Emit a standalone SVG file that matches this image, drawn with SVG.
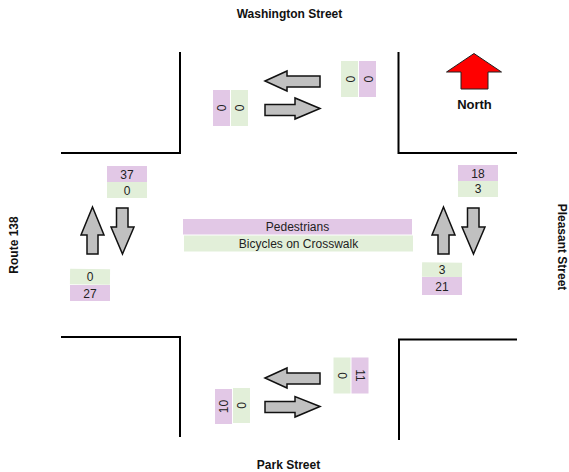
<svg xmlns="http://www.w3.org/2000/svg" width="569" height="472" viewBox="0 0 569 472">
<style>
.street{font-family:"Liberation Sans",Arial,sans-serif;font-weight:bold;font-size:12px;fill:#111;text-anchor:middle}
.num{font-family:"Liberation Sans",Arial,sans-serif;font-size:12px;fill:#222;text-anchor:middle}
.ped{fill:#e2c8e6}
.bik{fill:#e2efd9}
.curb{fill:none;stroke:#000;stroke-width:2}
.arr{fill:#c0c0c0;stroke:#111;stroke-width:1.5;stroke-linejoin:miter}
</style>
<rect width="569" height="472" fill="#fff"/>
<g id="curbs">
<polyline class="curb" points="180,52 180,153 61,153"/>
<polyline class="curb" points="398.5,52 398.5,153 517,153"/>
<polyline class="curb" points="61,337 180,337 180,437"/>
<polyline class="curb" points="517,339.5 399,339.5 399,440"/>
</g>
<g id="street-labels">
<text class="street" x="289.5" y="18">Washington Street</text>
<text class="street" x="288.5" y="469">Park Street</text>
<text class="street" transform="translate(18,245) rotate(-90)">Route 138</text>
<text class="street" transform="translate(557.5,247) rotate(90)">Pleasant Street</text>
</g>
<g id="north">
<polygon points="474,53.5 446.5,72 461,72 461,89 488,89 488,72 501.5,72" fill="#ff0000" stroke="#222" stroke-width="1"/>
<text x="474.5" y="109" style="font-family:'Liberation Sans',Arial,sans-serif;font-weight:bold;font-size:13px;fill:#111;text-anchor:middle">North</text>
</g>
<g id="legend">
<rect class="ped" x="183" y="219" width="229" height="15.5"/>
<text class="num" x="297.5" y="231">Pedestrians</text>
<rect class="bik" x="184" y="235.5" width="229" height="16"/>
<text class="num" x="298.5" y="248">Bicycles on Crosswalk</text>
</g>
<g id="connectors">
<polygon class="arr" points="265,81 287,71 287,76 320,76 320,87 287,87 287,91"/>
<polygon class="arr" points="320,108.5 295,98 295,104.5 265,104.5 265,115.5 295,115.5 295,119"/>
<polygon class="arr" points="265,378 287,368 287,373 320,373 320,384 287,384 287,388"/>
<polygon class="arr" points="320,406.5 295,396.5 295,401.5 265,401.5 265,412.5 295,412.5 295,417"/>
<polygon class="arr" points="92.5,207 104,235 98,235 98,254 87,254 87,235 81,235"/>
<polygon class="arr" points="122.5,254 134,227 128,227 128,208 116.5,208 116.5,227 111,227"/>
<polygon class="arr" points="443.5,207 455,235 449,235 449,254 438,254 438,235 432,235"/>
<polygon class="arr" points="473.5,254 485,227 479,227 479,208 467.5,208 467.5,227 462,227"/>
</g>
<g id="count-north-left">
<rect class="ped" x="213" y="90" width="17" height="36"/>
<rect class="bik" x="231" y="90" width="17" height="36"/>
<text class="num" transform="translate(225.5,108) rotate(-90)">0</text>
<text class="num" transform="translate(243.5,108) rotate(-90)">0</text>
</g>
<g id="count-north-right">
<rect class="bik" x="341" y="61" width="17" height="36"/>
<rect class="ped" x="359" y="61" width="17" height="36"/>
<text class="num" transform="translate(345.5,79) rotate(90)">0</text>
<text class="num" transform="translate(363.5,79) rotate(90)">0</text>
</g>
<g id="count-south-left">
<rect class="ped" x="215" y="389" width="17" height="35"/>
<rect class="bik" x="233" y="388" width="17" height="35"/>
<text class="num" transform="translate(227.5,406.5) rotate(-90)">10</text>
<text class="num" transform="translate(245.5,405.5) rotate(-90)">0</text>
</g>
<g id="count-south-right">
<rect class="bik" x="333.5" y="357.5" width="17" height="36"/>
<rect class="ped" x="351.5" y="357.5" width="17" height="36"/>
<text class="num" transform="translate(338,375.5) rotate(90)">0</text>
<text class="num" transform="translate(356,375.5) rotate(90)">11</text>
</g>
<g id="count-west-top">
<rect class="ped" x="107" y="166" width="40" height="16"/>
<rect class="bik" x="107" y="182" width="40" height="16"/>
<text class="num" x="127" y="178.5">37</text>
<text class="num" x="127" y="194.5">0</text>
</g>
<g id="count-west-bottom">
<rect class="bik" x="70" y="269" width="40" height="15.5" transform="rotate(0.8,90,277)"/>
<rect class="ped" x="70" y="285" width="40" height="16"/>
<text class="num" x="90" y="281">0</text>
<text class="num" x="90" y="297.5">27</text>
</g>
<g id="count-east-top">
<rect class="ped" x="458" y="165" width="40" height="16"/>
<rect class="bik" x="458" y="181" width="40" height="16"/>
<text class="num" x="478" y="177.5">18</text>
<text class="num" x="478" y="193">3</text>
</g>
<g id="count-east-bottom">
<rect class="bik" x="422" y="262.5" width="40" height="14.5" transform="rotate(0.8,442,270)"/>
<rect class="ped" x="422" y="277" width="40" height="18"/>
<text class="num" x="442" y="274">3</text>
<text class="num" x="442" y="290.5">21</text>
</g>
</svg>
